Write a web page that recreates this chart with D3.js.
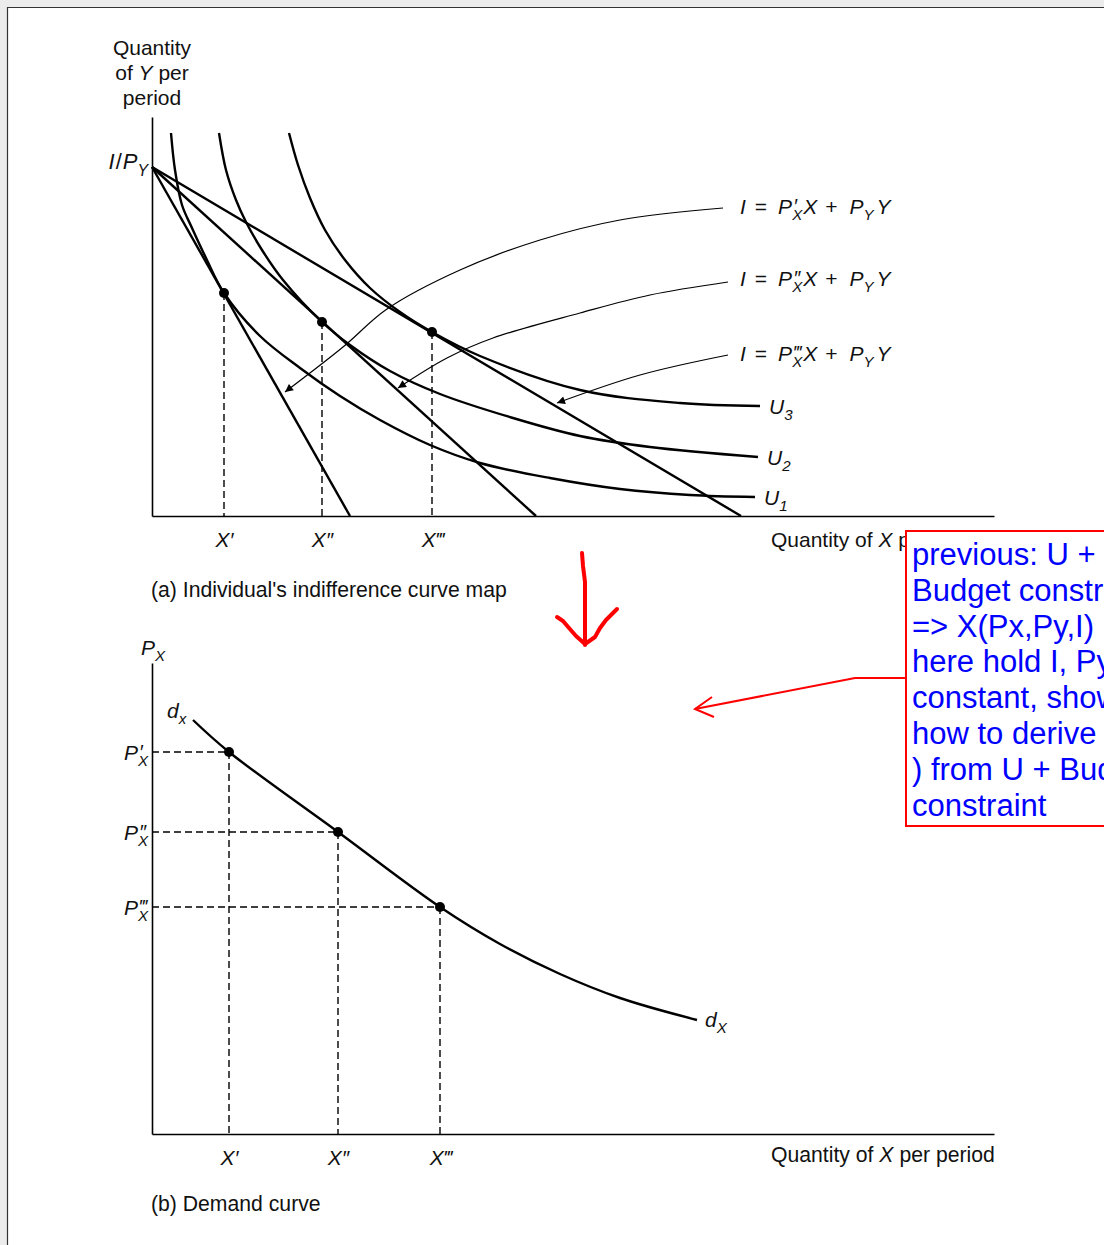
<!DOCTYPE html>
<html><head><meta charset="utf-8">
<script src="https://cdn.jsdelivr.net/npm/d3@7"></script>
<style>
body{margin:0;background:#ececec;overflow:hidden}
text{font-family:"Liberation Sans",Arial,Helvetica,sans-serif;fill:#111}
</style></head>
<body>
<svg id="c" width="1104" height="1245"></svg>
<script>
// ---------- DATA (arbitrary quantity units) ----------
const budgetIntercept = 34.9;                 // I/PY on the Y axis
const budgetXIntercepts = [19.8, 38.4, 58.9]; // I/P'X, I/P''X, I/P'''X
const u1X = [1.9, 2.3, 3.0, 4.0, 5.4, 7.2, 10.8, 14.8, 18.8, 22.8, 27.8, 32.8, 39.8, 46.8, 53.8, 60.3];
const u1Y = [38.3, 34.6, 31.1, 28.8, 25.8, 22.3, 18.0, 14.8, 12.0, 9.6, 7.1, 5.3, 3.8, 2.7, 2.1, 1.9];
const u2X = [6.7, 7.4, 8.4, 9.4, 11.0, 13.1, 17.0, 19.8, 23.8, 28.8, 36.1, 42.8, 49.8, 60.6];
const u2Y = [38.3, 34.6, 31.6, 29.4, 26.6, 23.6, 19.4, 17.1, 14.5, 12.2, 9.8, 8.0, 6.9, 5.9];
const u3X = [13.7, 14.6, 15.8, 17.3, 19.3, 21.8, 24.8, 28.0, 32.8, 42.8, 52.8, 60.8];
const u3Y = [38.3, 35.1, 31.8, 28.6, 25.6, 22.8, 20.4, 18.4, 16.0, 12.6, 11.3, 11.0];
const tangentX = [7.2, 17.0, 28.0];
const tangentY = [22.3, 19.4, 18.4];
const xTickLabels = ["X′", "X″", "X‴"];
const primes = ["′", "″", "‴"];
const curveLabels = ["1", "2", "3"];
// leader arrows from equation labels to budget lines
const lead1X = [57.1, 46.8, 38.8, 30.8, 23.5, 19.1, 13.3];
const lead1Y = [30.8, 29.6, 27.6, 24.6, 20.7, 16.9, 12.4];
const lead2X = [57.6, 49.8, 42.8, 34.1, 29.5, 24.6];
const lead2Y = [23.4, 22.1, 20.3, 17.8, 15.8, 12.8];
const lead3X = [57.6, 48.8, 40.5];
const lead3Y = [16.1, 14.1, 11.3];
// demand curve (panel b)
const demandX = [4.1, 7.7, 18.6, 28.8, 34.8, 40.8, 46.8, 54.5];
const demandY = [41.4, 38.2, 30.2, 22.7, 19.0, 16.0, 13.6, 11.4];
const demandPtX = [7.7, 18.6, 28.8];
const demandPtP = [38.2, 30.2, 22.7];
// annotation (page overlay)
const noteLines = ["previous: U +", "Budget constraint", "=> X(Px,Py,I)", "here hold I, Py", "constant, show", "how to derive X(Px", ") from U + Budget", "constraint"];
const downArrowShaft = [[582,553],[583,566],[585,582],[585,602],[585,622],[585,645]];
const downArrowHead = [[557,617],[563,621],[569,628],[576,636],[585,644],[595,637],[600,628],[606,620],[617,609]];
const calloutLeader = [[906,678],[855,678],[695,709]];
const calloutHead = [[712,697],[695,709],[714,717]];

// ---------- SETUP ----------
const svg = d3.select("#c");
svg.append("rect").attr("x",8).attr("y",8).attr("width",1104).attr("height",1245).attr("fill","#fff");
svg.append("line").attr("x1",7.5).attr("x2",7.5).attr("y1",7).attr("y2",1245).attr("stroke","#333").attr("stroke-width",1.2);
svg.append("line").attr("x1",7).attr("x2",1104).attr("y1",7.5).attr("y2",7.5).attr("stroke","#333").attr("stroke-width",1.2);

const xS = d3.scaleLinear().domain([0, 84.2]).range([152, 994]);
const yT = d3.scaleLinear().domain([0, 39.9]).range([516, 117]);
const yB = d3.scaleLinear().domain([0, 47.1]).range([1134, 663]);

const defs = svg.append("defs");
defs.append("marker").attr("id","ah").attr("viewBox","0 0 10 10").attr("refX",10).attr("refY",5)
  .attr("markerWidth",11).attr("markerHeight",8).attr("markerUnits","userSpaceOnUse").attr("orient","auto")
  .append("path").attr("d","M0,0 L10,5 L0,10 Z").attr("fill","#000");

function mtext(parent, x, y, tokens, anchor, size) {
  size = size || 20;
  const g = parent.append("g");
  let cx = 0;
  tokens.forEach(tk => {
    if (tk.gap) { cx += tk.gap; return; }
    const t = g.append("text").attr("x", cx).attr("y", 0).attr("font-size", size)
      .attr("font-style", tk.i ? "italic" : "normal").text(tk.s);
    cx += t.node().getComputedTextLength();
    let w = 0;
    if (tk.sup) { const s = g.append("text").attr("x", cx + 1).attr("y", -size*0.05).attr("font-size", size*0.95).attr("font-style","italic").text(tk.sup); w = Math.max(w, s.node().getComputedTextLength() + 1); }
    if (tk.sub) { const s = g.append("text").attr("x", cx).attr("y", size*0.3).attr("font-size", size*0.72).attr("font-style","italic").text(tk.sub); w = Math.max(w, s.node().getComputedTextLength() + 1); }
    cx += w;
  });
  const off = anchor === "middle" ? -cx/2 : anchor === "end" ? -cx : 0;
  g.attr("transform", `translate(${x+off},${y})`);
  return g;
}

const smooth = d3.line().curve(d3.curveCatmullRom.alpha(0.5));

// ---------- PANEL (a) ----------
const A = svg.append("g");
const xAxA = d3.axisBottom(xS).tickValues(tangentX).tickSize(0).tickSizeOuter(0).tickPadding(16)
  .tickFormat((d,i) => xTickLabels[i]);
const gxa = A.append("g").attr("transform", `translate(0,${yT(0)})`).call(xAxA);
gxa.select(".domain").attr("stroke","#000").attr("stroke-width",1.6);
gxa.selectAll("text").attr("font-size",21).attr("font-style","italic").attr("fill","#111").attr("font-family","Liberation Sans, Arial, sans-serif");
const gya = A.append("g").attr("transform", `translate(${xS(0)},0)`).call(d3.axisLeft(yT).tickValues([]).tickSize(0).tickSizeOuter(0));
gya.select(".domain").attr("stroke","#000").attr("stroke-width",1.6);

// dashed drop lines
A.selectAll(".dropA").data(tangentX).join("line")
  .attr("x1", d => xS(d)).attr("x2", d => xS(d))
  .attr("y1", (d,i) => yT(tangentY[i])).attr("y2", yT(0))
  .attr("stroke","#000").attr("stroke-width",1.4).attr("stroke-dasharray","7,4");

// budget lines
A.selectAll(".budget").data(budgetXIntercepts).join("line")
  .attr("x1", xS(0)).attr("y1", yT(budgetIntercept))
  .attr("x2", d => xS(d)).attr("y2", yT(0))
  .attr("stroke","#000").attr("stroke-width",2.4);

// indifference curves
const uSets = [[u1X,u1Y],[u2X,u2Y],[u3X,u3Y]];
uSets.forEach(([xs, ys]) => {
  A.append("path").attr("d", smooth(xs.map((x,i) => [xS(x), yT(ys[i])])))
    .attr("fill","none").attr("stroke","#000").attr("stroke-width",2.4);
});

// leader arrows
[[lead1X,lead1Y],[lead2X,lead2Y],[lead3X,lead3Y]].forEach(([xs, ys]) => {
  A.append("path").attr("d", smooth(xs.map((x,i) => [xS(x), yT(ys[i])])))
    .attr("fill","none").attr("stroke","#000").attr("stroke-width",1.2).attr("marker-end","url(#ah)");
});

// tangency points
A.selectAll(".dotA").data(tangentX).join("circle")
  .attr("cx", d => xS(d)).attr("cy", (d,i) => yT(tangentY[i])).attr("r",5).attr("fill","#000");

// labels panel a
["Quantity","of |Y| per","period"].forEach((l, i) => {
  const t = A.append("text").attr("x", xS(0)).attr("y", 55 + i*25).attr("text-anchor","middle").attr("font-size",21);
  if (l.includes("|")) {
    const p = l.split("|");
    t.append("tspan").text(p[0]);
    t.append("tspan").attr("font-style","italic").text(p[1]);
    t.append("tspan").text(p[2]);
  } else t.text(l);
});
mtext(A, xS(0) - 3, yT(budgetIntercept) + 2, [{s:"I", i:true},{gap:1},{s:"/"},{gap:1},{s:"P", i:true, sub:"Y"}], "end", 22);

const eqY = [yT(lead1Y[0]) + 6, yT(lead2Y[0]) + 4, yT(lead3Y[0]) + 6];
primes.forEach((p, i) => {
  mtext(A, 740, eqY[i], [{s:"I", i:true},{gap:9},{s:"="},{gap:11},{s:"P", i:true, sup:p, sub:"X"},{s:"X", i:true},{gap:8},{s:"+"},{gap:12},{s:"P", i:true, sub:"Y"},{gap:2},{s:"Y", i:true}], "start", 21);
});
uSets.forEach(([xs, ys], i) => {
  mtext(A, xS(xs[xs.length-1]) + 9, yT(ys[ys.length-1]) + 8, [{s:"U", i:true, sub: curveLabels[i]}], "start", 21);
});
A.append("text").attr("x", 771).attr("y", 547).attr("font-size",21)
  .html('Quantity of <tspan font-style="italic">X</tspan> per period');
A.append("text").attr("x", 151).attr("y", 597).attr("font-size",21.2).text("(a) Individual's indifference curve map");

// ---------- PANEL (b) ----------
const B = svg.append("g");
const xAxB = d3.axisBottom(xS).tickValues(demandPtX).tickSize(0).tickSizeOuter(0).tickPadding(16)
  .tickFormat((d,i) => xTickLabels[i]);
const gxb = B.append("g").attr("transform", `translate(0,${yB(0)})`).call(xAxB);
gxb.select(".domain").attr("stroke","#000").attr("stroke-width",1.6);
gxb.selectAll("text").attr("font-size",21).attr("font-style","italic").attr("fill","#111").attr("font-family","Liberation Sans, Arial, sans-serif");
const gyb = B.append("g").attr("transform", `translate(${xS(0)},0)`).call(d3.axisLeft(yB).tickValues([]).tickSize(0).tickSizeOuter(0));
gyb.select(".domain").attr("stroke","#000").attr("stroke-width",1.6);

B.selectAll(".hB").data(demandPtP).join("line")
  .attr("x1", xS(0)).attr("x2", (d,i) => xS(demandPtX[i])).attr("y1", d => yB(d)).attr("y2", d => yB(d))
  .attr("stroke","#000").attr("stroke-width",1.4).attr("stroke-dasharray","7,4");
B.selectAll(".vB").data(demandPtX).join("line")
  .attr("x1", d => xS(d)).attr("x2", d => xS(d)).attr("y1", (d,i) => yB(demandPtP[i])).attr("y2", yB(0))
  .attr("stroke","#000").attr("stroke-width",1.4).attr("stroke-dasharray","7,4");

B.append("path").attr("d", smooth(demandX.map((x,i) => [xS(x), yB(demandY[i])])))
  .attr("fill","none").attr("stroke","#000").attr("stroke-width",2.4);
B.selectAll(".dotB").data(demandPtX).join("circle")
  .attr("cx", d => xS(d)).attr("cy", (d,i) => yB(demandPtP[i])).attr("r",5).attr("fill","#000");

mtext(B, 141, 655, [{s:"P", i:true, sub:"X"}], "start", 21);
mtext(B, xS(demandX[0]) - 26, yB(demandY[0]) - 2, [{s:"d", i:true, sub:"x"}], "start", 21);
mtext(B, xS(demandX[demandX.length-1]) + 8, yB(demandY[demandY.length-1]) + 7, [{s:"d", i:true, sub:"X"}], "start", 21);
demandPtP.forEach((p, i) => {
  mtext(B, xS(0) - 3, yB(p) + 8, [{s:"P", i:true, sup: primes[i], sub:"X"}], "end", 21);
});
B.append("text").attr("x", 771).attr("y", 1162).attr("font-size",21.2)
  .html('Quantity of <tspan font-style="italic">X</tspan> per period');
B.append("text").attr("x", 151).attr("y", 1211).attr("font-size",21.2).text("(b) Demand curve");

// ---------- ANNOTATIONS ----------
const N = svg.append("g");
const straight = d3.line();
N.append("path").attr("d", straight(downArrowShaft)).attr("fill","none").attr("stroke","#ff0000").attr("stroke-width",4).attr("stroke-linecap","round").attr("stroke-linejoin","round");
N.append("path").attr("d", straight(downArrowHead)).attr("fill","none").attr("stroke","#ff0000").attr("stroke-width",4).attr("stroke-linecap","round").attr("stroke-linejoin","round");
N.append("path").attr("d", straight(calloutLeader)).attr("fill","none").attr("stroke","#ff0000").attr("stroke-width",2);
N.append("path").attr("d", straight(calloutHead)).attr("fill","none").attr("stroke","#ff0000").attr("stroke-width",2);
N.append("rect").attr("x",906).attr("y",531).attr("width",230).attr("height",295).attr("fill","#fff").attr("stroke","#ff0000").attr("stroke-width",2);
N.selectAll(".note").data(noteLines).join("text")
  .attr("x", 912).attr("y", (d,i) => 565 + i*35.8).attr("font-size",31).style("fill","#0000ff").text(d => d);
</script>
</body></html>
